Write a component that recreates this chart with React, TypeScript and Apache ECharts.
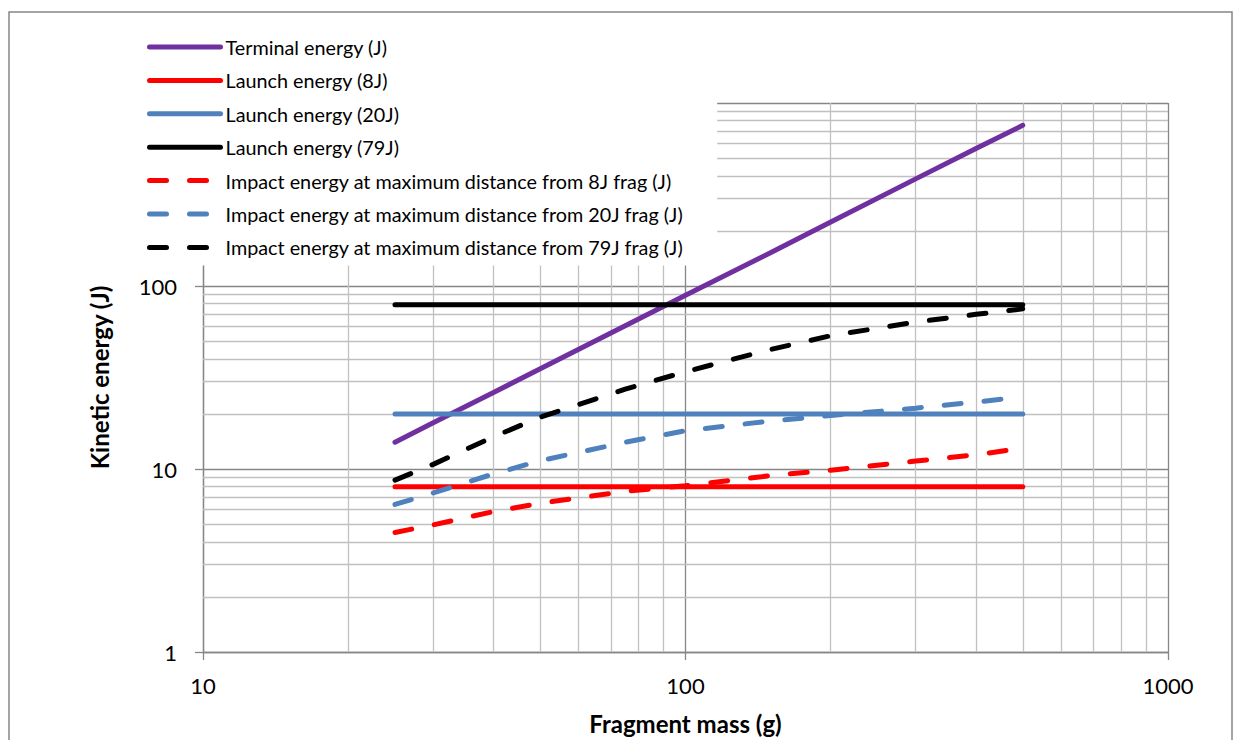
import React, { useEffect, useRef } from "react";
import * as echarts from "echarts";

// ---- data ----
const massPoints = [25, 30, 40, 50, 75, 100, 150, 200, 300, 400, 500];
const terminalEnergy = [14, 17.9, 26.2, 35.3, 60.6, 88.9, 152, 224, 385, 564, 755];
const launchMass = [25, 500];
const launch8 = [8, 8];
const launch20 = [20, 20];
const launch79 = [79, 79];
const impact8 = [4.5, 4.95, 5.85, 6.5, 7.55, 8.1, 9.2, 9.85, 11.05, 11.95, 13.0];
const impact20 = [6.4, 7.4, 9.4, 11.1, 14.0, 16.2, 18.3, 19.6, 21.5, 23.2, 24.8];
const impact79 = [8.7, 10.6, 15.0, 19.2, 27.3, 34, 45, 53.5, 63.5, 70, 75];

const seriesNames = [
  "Terminal energy (J)",
  "Launch energy (8J)",
  "Launch energy (20J)",
  "Launch energy (79J)",
  "Impact energy at maximum distance from 8J frag (J)",
  "Impact energy at maximum distance from 20J frag (J)",
  "Impact energy at maximum distance from 79J frag (J)",
];

const xMinorTicks = [20, 30, 40, 50, 60, 70, 80, 90, 200, 300, 400, 500, 600, 700, 800, 900];
const yMinorTicks = [2, 3, 4, 5, 6, 7, 8, 9, 20, 30, 40, 50, 60, 70, 80, 90, 200, 300, 400, 500, 600, 700, 800, 900];

const xAxisTitle = "Fragment mass (g)";
const yAxisTitle = "Kinetic energy (J)";

const FONT = "Lato, 'Open Sans', sans-serif";

function pairs(xs: number[], ys: number[]) {
  return xs.map((x, i) => [x, ys[i]]);
}

export default function App() {
  const ref = useRef<HTMLDivElement>(null);

  useEffect(() => {
    document.body.style.margin = "0";
    if (!ref.current) return;
    const chart = echarts.init(ref.current, null, { renderer: "svg" });

    const LW = 5;
    const solid = (name: string, color: string, data: number[][]) => ({
      name,
      type: "line",
      data,
      symbol: "none",
      z: 2,
      lineStyle: { color, width: LW, cap: "round" },
      itemStyle: { color },
    });
    const dashed = (name: string, color: string, data: number[][]) => ({
      name,
      type: "line",
      data,
      symbol: "none",
      z: 2,
      lineStyle: { color, width: LW, type: [17, 23], cap: "round" },
      itemStyle: { color },
    });

    const gridColor = "#868686";

    const option: any = {
      animation: false,
      textStyle: { fontFamily: FONT },
      grid: { left: 203, right: 73, top: 103, bottom: 85 },
      legend: {
        data: seriesNames,
        orient: "vertical",
        left: 100,
        top: 20,
        padding: [17, 34, 8, 47],
        backgroundColor: "#ffffff",
        itemWidth: 71,
        itemHeight: 20,
        itemGap: 13.4,
        z: 6,
        itemStyle: { color: "rgba(0,0,0,0)", borderWidth: 0, opacity: 0 },
        lineStyle: { width: LW, cap: "round" },
        textStyle: { fontFamily: FONT, fontSize: 19.8, color: "#000", lineHeight: 20 },
      },
      graphic: [
        {
          type: "rect",
          z: 0,
          silent: true,
          shape: { x: 9, y: 12, width: 1223, height: 740 },
          style: { fill: "none", stroke: gridColor, lineWidth: 1.5 },
        },
      ],
      xAxis: {
        type: "log",
        logBase: 10,
        min: 10,
        max: 1000,
        name: xAxisTitle,
        nameLocation: "middle",
        nameGap: 59,
        nameTextStyle: { fontFamily: FONT, fontSize: 24, fontWeight: "bold", color: "#000" },
        axisLine: { show: true, lineStyle: { color: gridColor, width: 1.3 } },
        axisTick: { show: true, length: 8, lineStyle: { color: gridColor, width: 1.3 } },
        splitLine: { show: true, lineStyle: { color: gridColor, width: 1.3 } },
        minorTick: { show: false },
        axisLabel: {
          fontFamily: FONT,
          fontSize: 22,
          color: "#000",
          margin: 22,
          formatter: (v: number) => String(Math.round(v)),
        },
      },
      yAxis: {
        type: "log",
        logBase: 10,
        min: 1,
        max: 1000,
        name: yAxisTitle,
        nameLocation: "middle",
        nameGap: 92,
        nameTextStyle: { fontFamily: FONT, fontSize: 24, fontWeight: "bold", color: "#000" },
        axisLine: { show: true, lineStyle: { color: gridColor, width: 1.3 } },
        axisTick: { show: true, length: 8, lineStyle: { color: gridColor, width: 1.3 } },
        splitLine: { show: true, lineStyle: { color: gridColor, width: 1.3 } },
        minorTick: { show: false },
        axisLabel: {
          fontFamily: FONT,
          fontSize: 22,
          color: "#000",
          margin: 26,
          formatter: (v: number) => String(Math.round(v)),
        },
      },
      series: [
        {
          name: "minor-grid",
          type: "line",
          data: [],
          z: 1,
          silent: true,
          markLine: {
            z: 1,
            silent: true,
            symbol: ["none", "none"],
            label: { show: false },
            animation: false,
            lineStyle: { color: "#c0c0c0", width: 1.3, type: "solid" },
            emphasis: { disabled: true },
            data: [
              ...xMinorTicks.map((v) => ({ xAxis: v })),
              ...yMinorTicks.map((v) => ({ yAxis: v })),
            ],
          },
        },
        solid(seriesNames[0], "#7030A0", pairs(massPoints, terminalEnergy)),
        solid(seriesNames[1], "#FF0000", pairs(launchMass, launch8)),
        solid(seriesNames[2], "#4F81BD", pairs(launchMass, launch20)),
        solid(seriesNames[3], "#000000", pairs(launchMass, launch79)),
        dashed(seriesNames[4], "#FF0000", pairs(massPoints, impact8)),
        dashed(seriesNames[5], "#4F81BD", pairs(massPoints, impact20)),
        dashed(seriesNames[6], "#000000", pairs(massPoints, impact79)),
      ],
    };

    chart.setOption(option);
    return () => chart.dispose();
  }, []);

  return <div ref={ref} style={{ width: 1241, height: 740 }} />;
}
